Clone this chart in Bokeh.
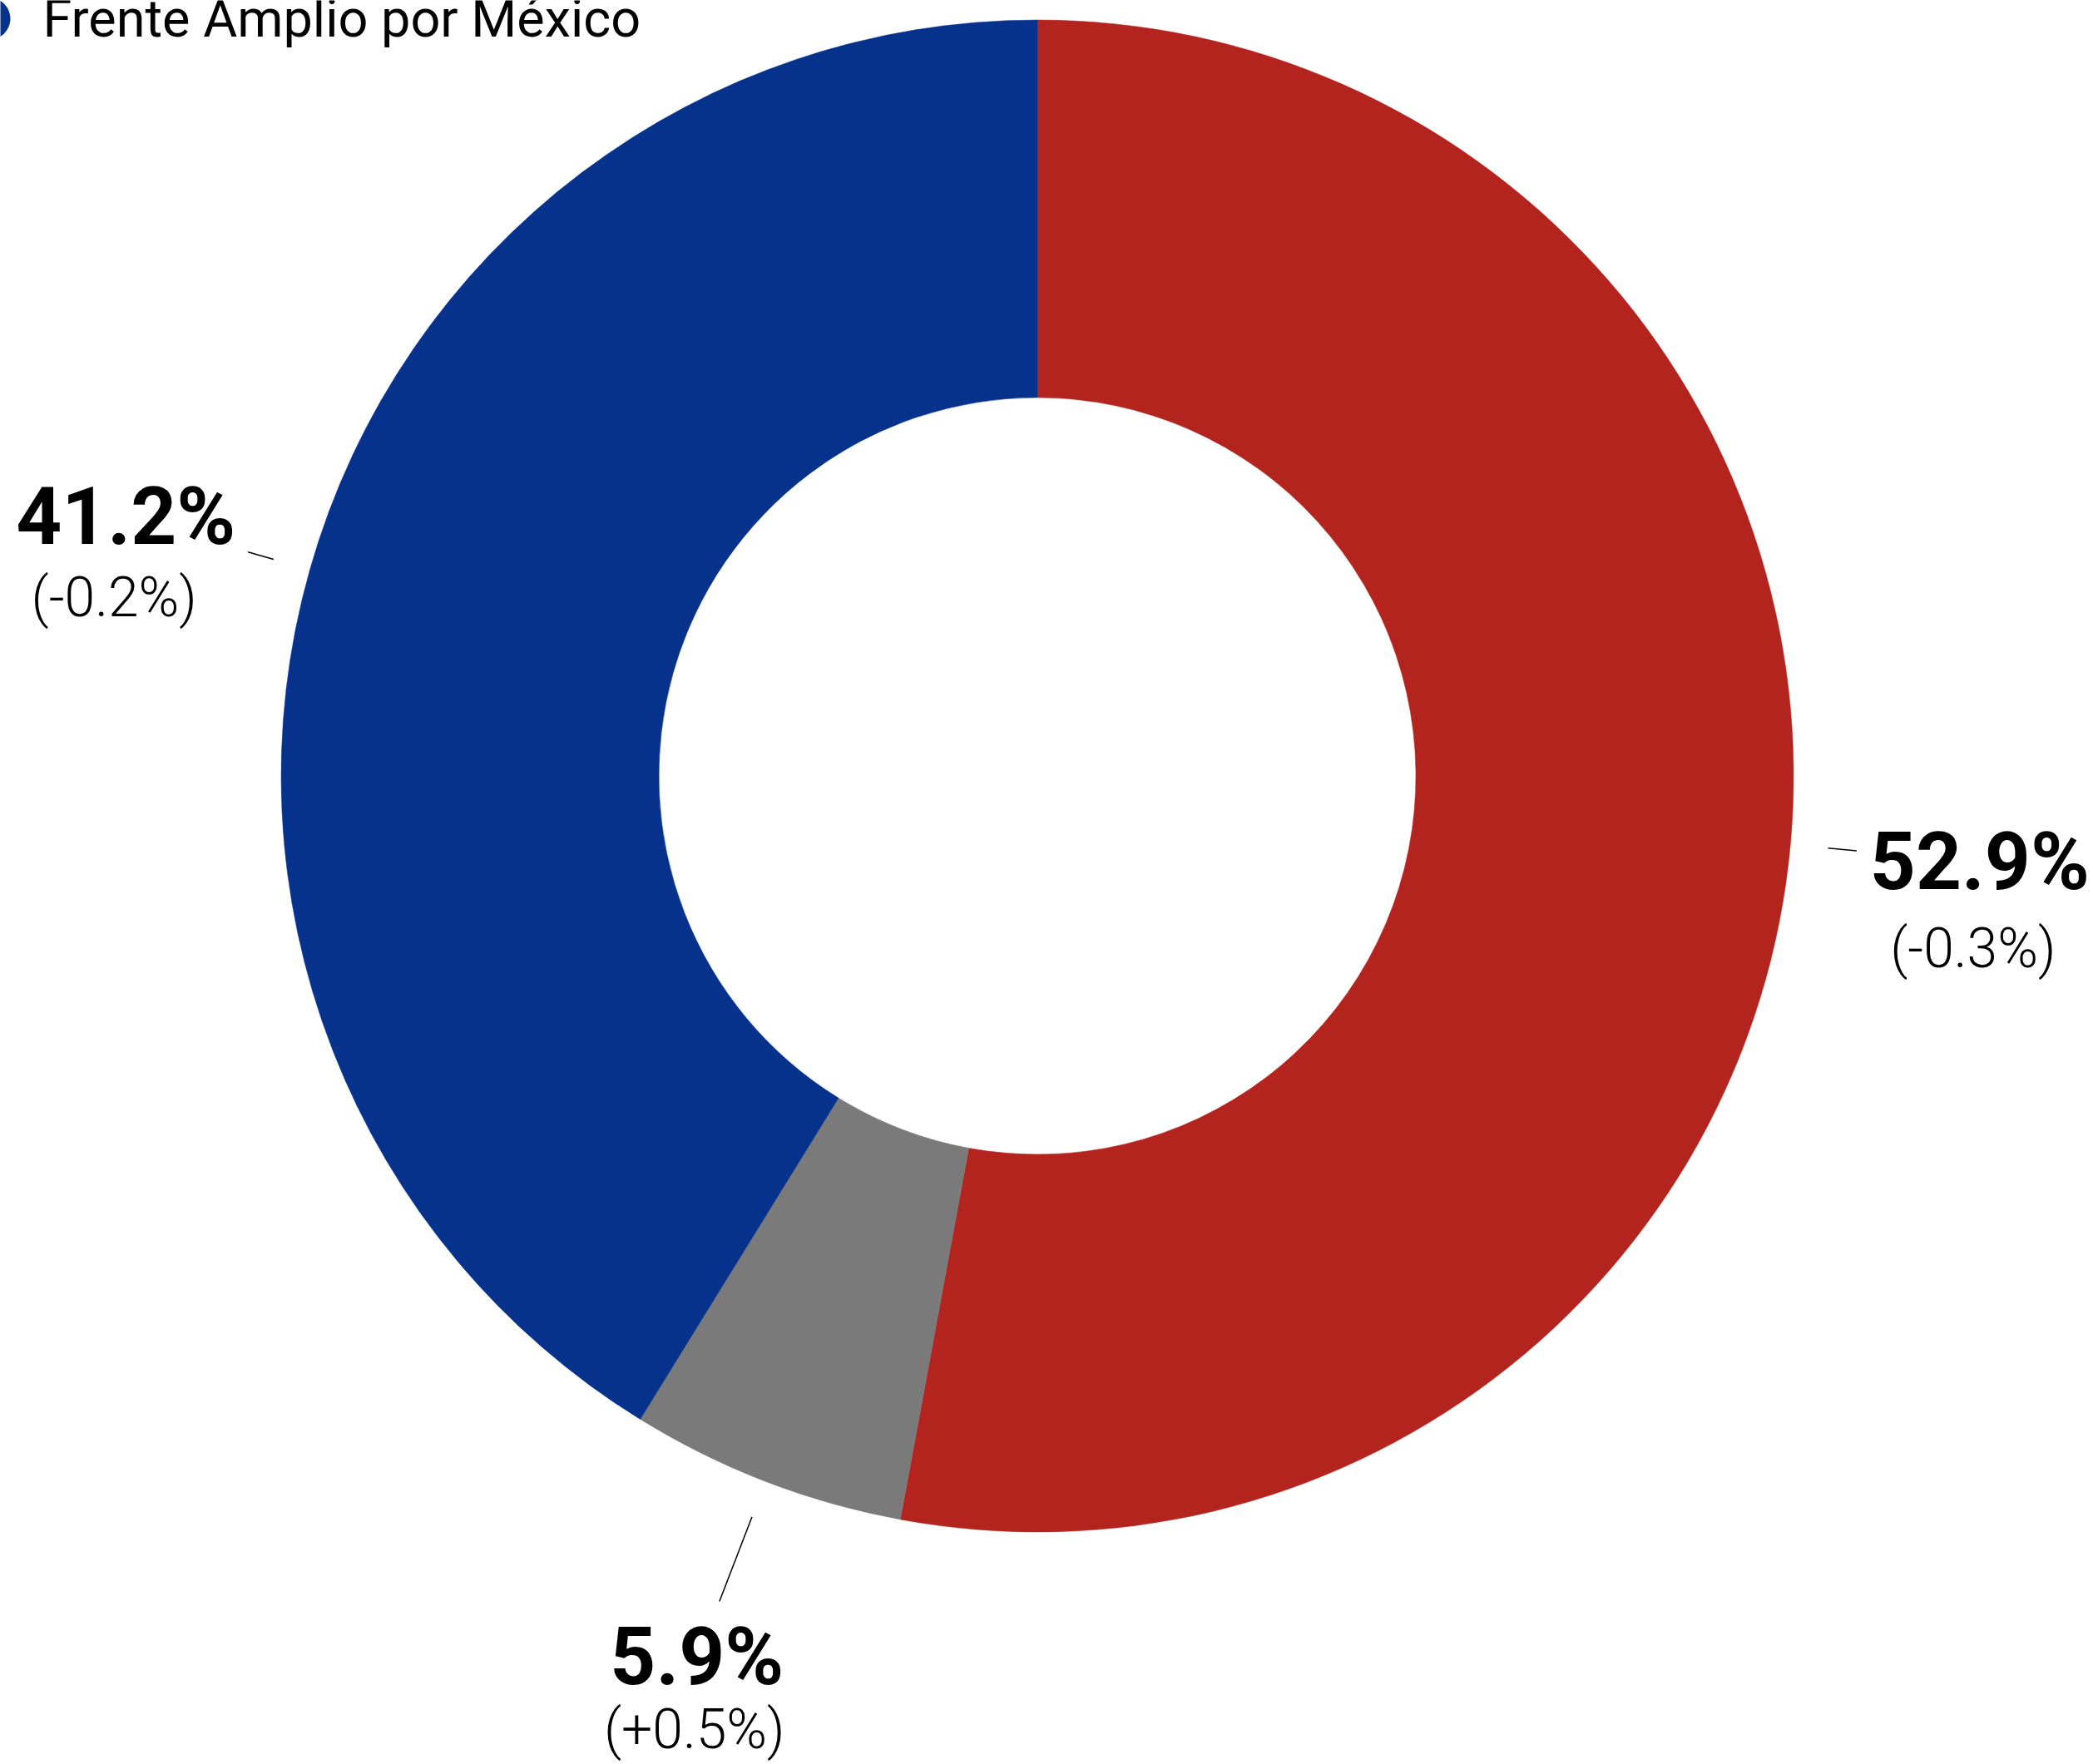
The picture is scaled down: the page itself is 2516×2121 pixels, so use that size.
import math
from bokeh.plotting import figure
from bokeh.models import Range1d, ColumnDataSource
from bokeh.core.properties import value
from bokeh.embed import file_html
from bokeh.resources import INLINE

# ---- data ----
parties = ["Sigamos Haciendo Historia", "Movimiento Ciudadano", "Frente Amplio por México"]
shares = [52.9, 5.9, 41.2]
changes = ["(-0.3%)", "(+0.5%)", "(-0.2%)"]
share_labels = ["52.9%", "5.9%", "41.2%"]
colors = ["#B3241F", "#7A7A7A", "#06328C"]
legend_label = "Frente Amplio por México"

# ---- layout (pixel-like coordinates; y measured downward, negated) ----
W, H = 2516, 2121
X0, Y0 = 0, 0
CX, CY = 1246.5, 932.5
R_OUT, R_IN = 909, 455
conn_in = [1.05, 1.05, 1.05]
conn_out = [1.088, 1.17, 1.085]
bold_off = [(148, 13), (-27, 67), (-147, -43)]
sub_off = [(140, 118), (-30, 154), (-161, 55)]

p = figure(width=W, height=H, output_backend="svg", toolbar_location=None,
           x_range=Range1d(X0, X0 + W), y_range=Range1d(-(Y0 + H), -Y0),
           x_axis_type=None, y_axis_type=None, min_border=0,
           background_fill_color="white", border_fill_color="white")
p.outline_line_color = None
p.grid.visible = False

total = sum(shares)
starts, ends, mids = [], [], []
cum = 0.0
for s in shares:
    a0 = math.pi / 2 - 2 * math.pi * cum / total
    cum += s
    a1 = math.pi / 2 - 2 * math.pi * cum / total
    starts.append(a0)
    ends.append(a1)
    mids.append((a0 + a1) / 2)

src = ColumnDataSource(dict(x=[CX] * 3, y=[-CY] * 3, start=starts, end=ends, color=colors))
p.annular_wedge(x="x", y="y", inner_radius=R_IN, outer_radius=R_OUT,
                start_angle="start", end_angle="end", direction="clock",
                fill_color="color", line_color="color", line_width=0.5, source=src)

x0s, y0s, x1s, y1s = [], [], [], []
bx, by, sx, sy = [], [], [], []
for i, m in enumerate(mids):
    c, s = math.cos(m), math.sin(m)
    xa, ya = CX + c * R_OUT * conn_in[i], -CY + s * R_OUT * conn_in[i]
    xb, yb = CX + c * R_OUT * conn_out[i], -CY + s * R_OUT * conn_out[i]
    x0s.append(xa); y0s.append(ya); x1s.append(xb); y1s.append(yb)
    bx.append(xb + bold_off[i][0]); by.append(yb - bold_off[i][1])
    sx.append(xb + sub_off[i][0]); sy.append(yb - sub_off[i][1])

p.segment(x0=x0s, y0=y0s, x1=x1s, y1=y1s, line_color="black", line_width=1.5)

p.text(x=bx, y=by, text=share_labels, text_font=value("Roboto"), text_font_style="bold",
       text_font_size="96px", text_align="center", text_baseline="alphabetic", text_color="black")
p.text(x=sx, y=sy, text=changes, text_font=value("Roboto Light, Roboto"),
       text_font_size="66px", text_align="center", text_baseline="alphabetic", text_color="black")

# legend (partially visible at top-left)
p.circle(x=[-13], y=[-22], radius=25, fill_color=colors[2], line_color=None)
p.text(x=[51], y=[-22], text=[legend_label], text_font=value("Roboto"),
       text_font_size="63px", text_align="left", text_baseline="alphabetic", text_color="black")

open("out.html", "w").write(file_html(p, INLINE))
